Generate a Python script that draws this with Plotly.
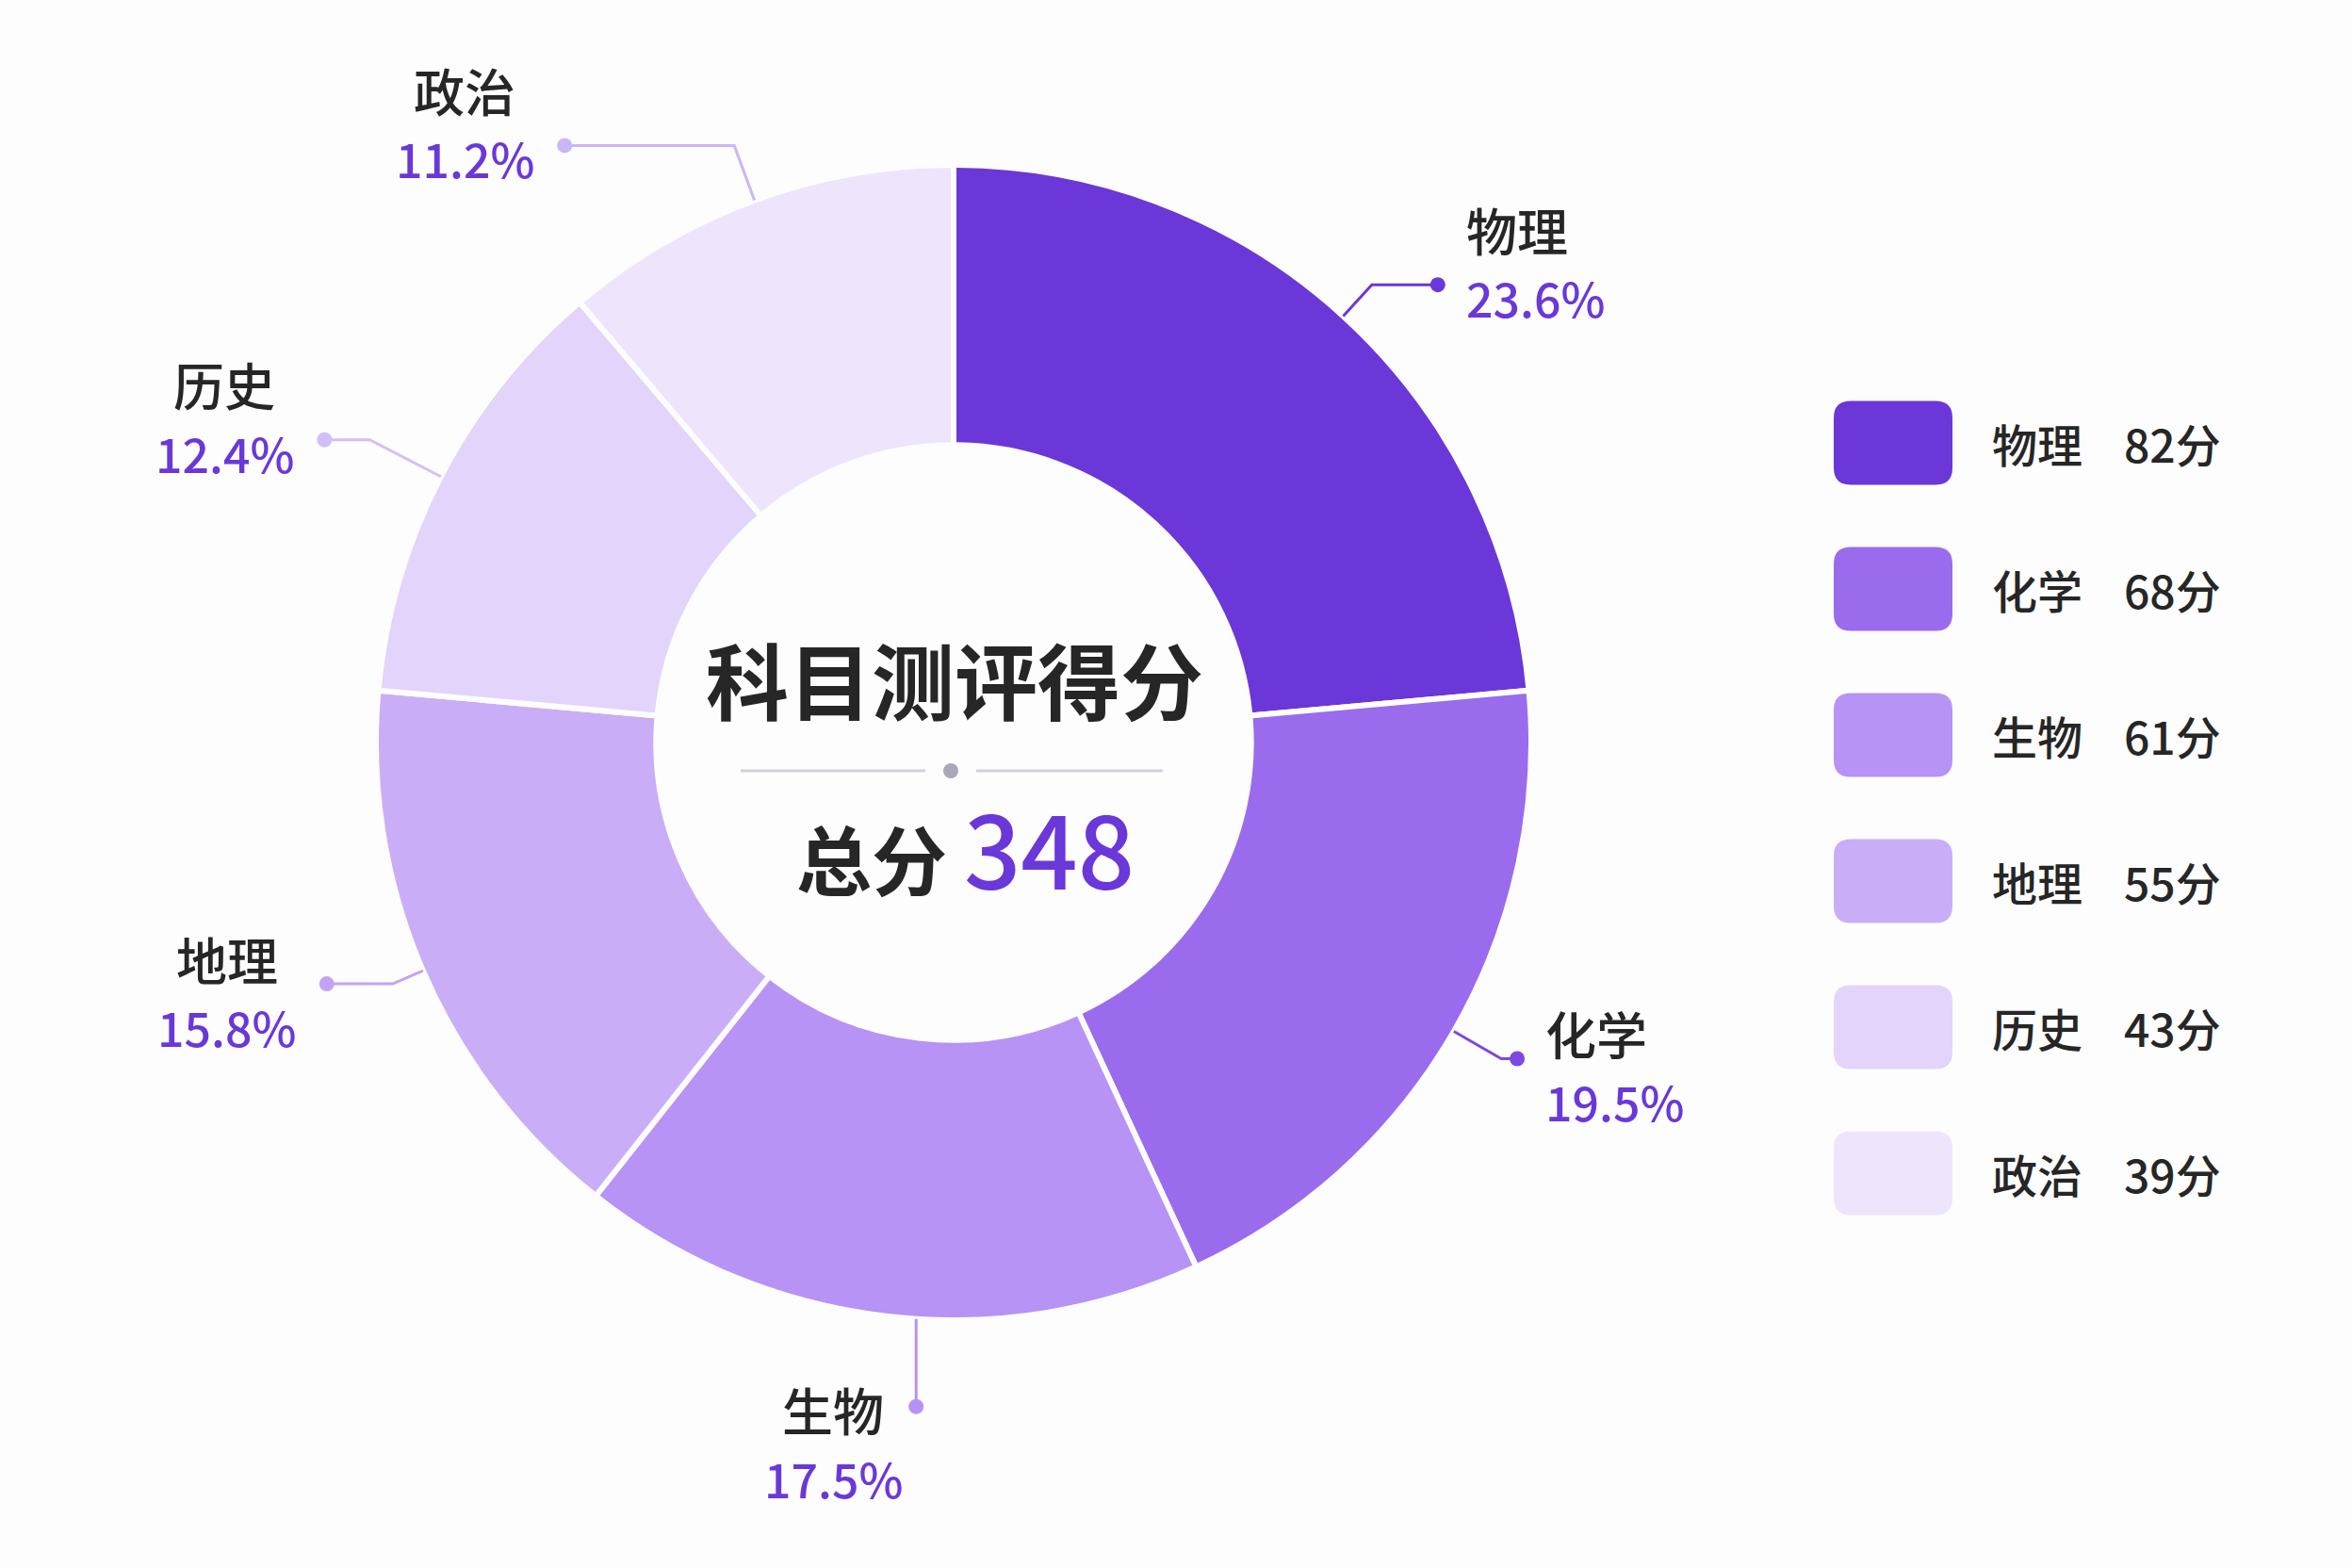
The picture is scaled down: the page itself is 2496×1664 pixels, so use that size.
import math
import plotly.graph_objects as go

# ---------------- data ----------------
subjects = ["物理", "化学", "生物", "地理", "历史", "政治"]
scores = [82, 68, 61, 55, 43, 39]
title_text = "科目测评得分"
total_label = "总分"

# ---------------- style ----------------
W, H = 2496, 1664
BG = "#fdfdfe"
slice_colors = ["#6b37d9", "#9a6ced", "#b693f4", "#c9aef7", "#e3d4fb", "#eee5fd"]
leader_colors = ["#6a38d9", "#7c4ae2", "#b592f4", "#c1a3f5", "#d2bff8", "#cbb6f6"]
PURPLE = "#6a38d9"
DARK = "#262626"
FONT = "Noto Sans CJK SC"

CX, CY, R = 1012, 788, 613          # pie centre / radius in px
RADIAL_EXT = [45, 58, 93, 35, 85, 62]   # leader radial segment length (px)
HORIZ = [70, 17, 0, 70, 48, 180]        # leader horizontal segment length (px)
BOTTOM_SHIFT = 32                        # x shift of the vertical (bottom) leader
NAME_SIZE, PCT_SIZE = 54, 50


def px(x):
    return x / W


def py(y):
    return 1 - y / H


def text(x, y, s, size, color, xanchor="center", weight=500):
    annotations.append(dict(x=px(x), y=py(y), xref="paper", yref="paper", text=s,
                            showarrow=False, xanchor=xanchor, yanchor="middle",
                            font=dict(family=FONT, size=size, color=color, weight=weight)))


total = sum(scores)
pcts = [s / total * 100 for s in scores]

fig = go.Figure()
fig.add_trace(go.Pie(
    labels=subjects, values=scores, sort=False, direction="clockwise", rotation=0,
    hole=0.515, textinfo="none", showlegend=False,
    marker=dict(colors=slice_colors, line=dict(color=BG, width=6)),
    domain=dict(x=[px(CX - R), px(CX + R)], y=[py(CY + R), py(CY - R)]),
    hovertemplate="%{label}: %{value}分 (%{percent})<extra></extra>",
))

shapes = []
annotations = []

# ---------------- leader lines + labels ----------------
cum = 0
for i, (name, val, pct) in enumerate(zip(subjects, scores, pcts)):
    mid = (cum + val / 2) / total * 2 * math.pi
    cum += val
    s, c = math.sin(mid), math.cos(mid)
    col = leader_colors[i]
    ptxt = f"{pct:.1f}%"
    if abs(s) < 0.25:
        # bottom: vertical leader
        ex = CX + R * s + BOTTOM_SHIFT
        ey = CY + math.sqrt(R * R - (ex - CX) ** 2)
        dx, dy = ex, ey + RADIAL_EXT[i]
        shapes.append(dict(type="path", xref="paper", yref="paper",
                           path=f"M {px(ex)},{py(ey)} L {px(dx)},{py(dy)}",
                           line=dict(color=col, width=3)))
        text(dx - 88, dy + 3, name, NAME_SIZE, DARK)
        text(dx - 88, dy + 75, ptxt, PCT_SIZE, PURPLE)
    else:
        ex, ey = CX + R * s, CY - R * c
        bx, by = CX + (R + RADIAL_EXT[i]) * s, CY - (R + RADIAL_EXT[i]) * c
        side = 1 if s > 0 else -1
        dx, dy = bx + side * HORIZ[i], by
        shapes.append(dict(type="path", xref="paper", yref="paper",
                           path=f"M {px(ex)},{py(ey)} L {px(bx)},{py(by)} L {px(dx)},{py(dy)}",
                           line=dict(color=col, width=3)))
        ny, pyy = (dy - 59, dy + 13) if c > 0 else (dy - 27, dy + 45)
        if side > 0:
            text(dx + 28, ny, name, NAME_SIZE, DARK, "left")
            text(dx + 28, pyy, ptxt, PCT_SIZE, PURPLE, "left")
        else:
            text(dx - 106, ny, name, NAME_SIZE, DARK)
            text(dx - 106, pyy, ptxt, PCT_SIZE, PURPLE)
    rd = 8
    shapes.append(dict(type="circle", xref="paper", yref="paper",
                       x0=px(dx - rd), x1=px(dx + rd), y0=py(dy + rd), y1=py(dy - rd),
                       fillcolor=col, line=dict(width=0)))

# ---------------- centre text ----------------
text(1013, 718, f"<b>{title_text}</b>", 88, DARK, weight=700)
annotations.append(dict(x=px(1024), y=py(898), xref="paper", yref="paper",
                        text=f"<b>{total_label}</b> <span style='font-size:106px;color:{PURPLE};font-weight:500'>{total}</span>",
                        showarrow=False, yanchor="middle",
                        font=dict(family=FONT, size=80, color=DARK)))
for x0, x1 in [(786, 982), (1036, 1234)]:
    shapes.append(dict(type="line", xref="paper", yref="paper", x0=px(x0), x1=px(x1),
                       y0=py(818), y1=py(818), line=dict(color="#d2d0db", width=3)))
shapes.append(dict(type="circle", xref="paper", yref="paper", x0=px(1001), x1=px(1017),
                   y0=py(826), y1=py(810), fillcolor="#aaa8b8", line=dict(width=0)))

# ---------------- legend ----------------
LX0, LX1, LH, LY0, LSTEP, RAD = 1946, 2072, 89, 470, 155, 18
for i, (name, val) in enumerate(zip(subjects, scores)):
    yc = LY0 + i * LSTEP
    t, b = yc - LH / 2, yc + LH / 2
    rx, ry = RAD / W, RAD / H
    x0, x1, y0, y1 = px(LX0), px(LX1), py(b), py(t)
    path = (f"M {x0 + rx},{y0} L {x1 - rx},{y0} Q {x1},{y0} {x1},{y0 + ry} "
            f"L {x1},{y1 - ry} Q {x1},{y1} {x1 - rx},{y1} L {x0 + rx},{y1} "
            f"Q {x0},{y1} {x0},{y1 - ry} L {x0},{y0 + ry} Q {x0},{y0} {x0 + rx},{y0} Z")
    shapes.append(dict(type="path", xref="paper", yref="paper", path=path,
                       fillcolor=slice_colors[i], line=dict(width=0)))
    text(2112, yc, name, 48, DARK, "left")
    text(2252, yc, f"{val}分", 48, DARK, "left")

fig.update_layout(
    width=W, height=H, margin=dict(l=0, r=0, t=0, b=0),
    paper_bgcolor=BG, plot_bgcolor=BG,
    shapes=shapes, annotations=annotations, showlegend=False,
    font=dict(family=FONT),
)
fig.write_html("out.html", config={"displayModeBar": False},
               post_script="document.body.style.margin='0';document.body.style.overflow='hidden';")
